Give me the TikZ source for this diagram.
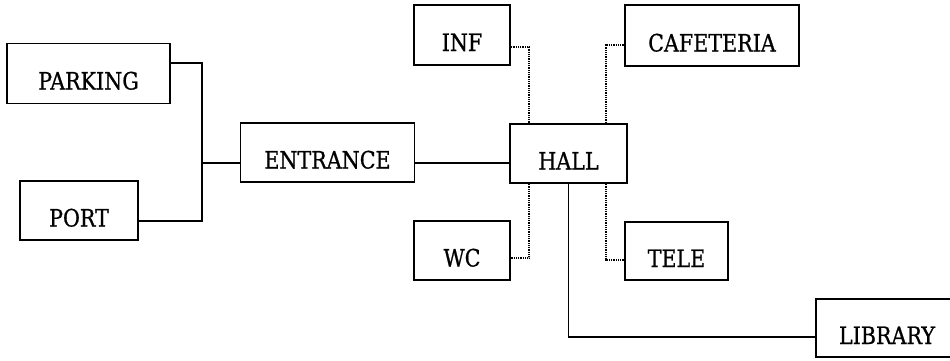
\documentclass[tikz,border=0pt]{standalone}
\usepackage{fontspec}
\setmainfont{DejaVu Serif}[FakeStretch=0.86,FakeBold=0.8]
\begin{document}
\begin{tikzpicture}[x=1pt,y=-1pt,
  room/.style={draw,line width=1.6pt,rectangle,minimum height=59pt,
    text height=32pt,text depth=0pt,inner sep=0pt,
    font=\fontsize{24}{24}\selectfont},
  link/.style={line width=1.6pt},
  dotlink/.style={line width=1.8pt,dash pattern=on 0.9pt off 0.9pt}]
\useasboundingbox (0,0) rectangle (950,360);
% rooms
\node[room,minimum width=163pt,minimum height=60pt] (parking) at (88.5,73.5) {PARKING};
\node[room,minimum width=118pt] (port) at (79,210.5) {PORT};
\node[room,minimum width=174pt] (entrance) at (327.5,152.5) {ENTRANCE};
\node[room,minimum width=117pt] (hall) at (568.5,153.5) {HALL};
\node[room,minimum width=96pt,minimum height=60pt] (inf) at (462,35) {INF};
\node[room,minimum width=174pt,minimum height=61pt] (cafe) at (712,35.5) {CAFETERIA};
\node[room,minimum width=96pt] (wc) at (462,250.5) {WC};
\node[room,minimum width=103pt,minimum height=58pt] (tele) at (676.5,251) {TELE};
% the library box runs past the right edge of the page
\node[room,minimum width=142pt,minimum height=58pt] (library) at (887,328) {LIBRARY};
% solid links
\coordinate (j) at (202,163);
\draw[link] ([yshift=10.5pt]parking.east) -| (j) |- ([yshift=-10.5pt]port.east);
\draw[link] (j) -- (entrance.west |- j);
\draw[link] ([yshift=-10.5pt]entrance.east) -- (hall.west |- j);
\draw[link] (hall.south) |- ([yshift=-9pt]library.west);
% dotted links
\draw[dotlink] ([yshift=-12pt]inf.east) -| ([xshift=-39.5pt]hall.north);
\draw[dotlink] ([yshift=-9.5pt]cafe.west) -| ([xshift=37.5pt]hall.north);
\draw[dotlink] ([xshift=-39.5pt]hall.south) |- ([yshift=-7.5pt]wc.east);
\draw[dotlink] ([xshift=37.5pt]hall.south) |- ([yshift=-9pt]tele.west);
\end{tikzpicture}
\end{document}
